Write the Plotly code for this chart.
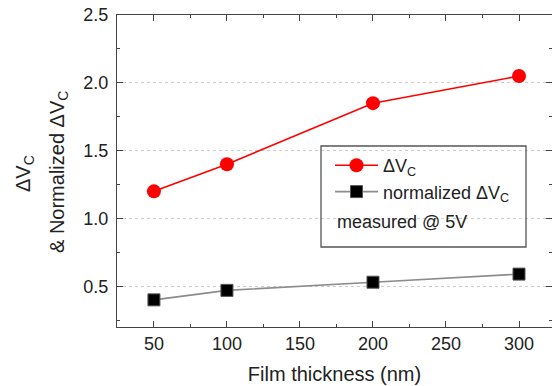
import plotly.graph_objects as go

thickness = [50, 100, 200, 300]
delta_vc = [1.20, 1.40, 1.85, 2.05]
norm_delta_vc = [0.40, 0.47, 0.53, 0.59]

x_ticks = [50, 100, 150, 200, 250, 300]
y_ticks = [0.5, 1.0, 1.5, 2.0, 2.5]

FONT = "Arial, Liberation Sans, Helvetica, sans-serif"
AX = "#444444"

fig = go.Figure()
fig.add_trace(go.Scatter(
    x=thickness, y=delta_vc, mode="lines+markers", name="ΔV<sub>C</sub>",
    line=dict(color="#ff0000", width=1.6),
    marker=dict(symbol="circle", size=14, color="#ff0000"),
))
fig.add_trace(go.Scatter(
    x=thickness, y=norm_delta_vc, mode="lines+markers", name="normalized ΔV<sub>C</sub>",
    line=dict(color="#8c8c8c", width=1.6),
    marker=dict(symbol="square", size=12, color="#000000", line=dict(color="#555555", width=1)),
))

W, H = 552, 386
L, T, B = 117, 15, 59
pw, ph = W - L, H - T - B

def px(xp):
    return (xp - L) / pw

def py(yp):
    return (H - B - yp) / ph

axis_common = dict(
    showline=True, linecolor=AX, linewidth=1.3, mirror="allticks",
    ticks="inside", ticklen=6, tickwidth=1, tickcolor=AX,
    tickfont=dict(family=FONT, size=18, color="#222222"),
    zeroline=False,
)

fig.update_layout(
    width=W, height=H,
    margin=dict(l=L, r=0, t=T, b=B),
    paper_bgcolor="white", plot_bgcolor="white",
    font=dict(family=FONT, color="#222222"),
    xaxis=dict(
        range=[24.7, 322.6], tickvals=x_ticks, showgrid=False,
        minor=dict(dtick=25, tick0=0, ticks="inside", ticklen=3, tickcolor=AX, showgrid=False),
        title=dict(text="Film thickness (nm)", font=dict(family=FONT, size=20, color="#222222"), standoff=14),
        **axis_common,
    ),
    yaxis=dict(
        range=[0.2, 2.5], tickvals=y_ticks, tickformat=".1f",
        showgrid=True, gridcolor="#cccccc", griddash="dot", gridwidth=1,
        minor=dict(dtick=0.25, tick0=0, ticks="inside", ticklen=3, tickcolor=AX, showgrid=False),
        ticklabelstandoff=4,
        **axis_common,
    ),
    showlegend=True,
    legend=dict(
        x=px(330), y=py(147), xanchor="left", yanchor="top",
        bgcolor="rgba(0,0,0,0)", borderwidth=0,
        font=dict(family=FONT, size=18, color="#222222"),
        itemwidth=43, tracegroupgap=0,
    ),
    shapes=[dict(
        type="rect", xref="paper", yref="paper",
        x0=px(321), x1=px(526), y0=py(247), y1=py(146),
        line=dict(color="#555555", width=1.3), fillcolor="rgba(0,0,0,0)", layer="above",
    )],
    annotations=[
        dict(text="measured @ 5V", xref="paper", yref="paper", x=px(335), y=py(222),
             xanchor="left", yanchor="middle", showarrow=False,
             font=dict(family=FONT, size=18, color="#222222")),
        dict(text="ΔV<sub>C</sub>", xref="paper", yref="paper", x=px(24), y=py(174),
             xanchor="center", yanchor="middle", textangle=-90, showarrow=False,
             font=dict(family=FONT, size=20, color="#222222")),
        dict(text="& Normalized ΔV<sub>C</sub>", xref="paper", yref="paper", x=px(58), y=py(172),
             xanchor="center", yanchor="middle", textangle=-90, showarrow=False,
             font=dict(family=FONT, size=20, color="#222222")),
    ],
)

fig.write_html("out.html")
